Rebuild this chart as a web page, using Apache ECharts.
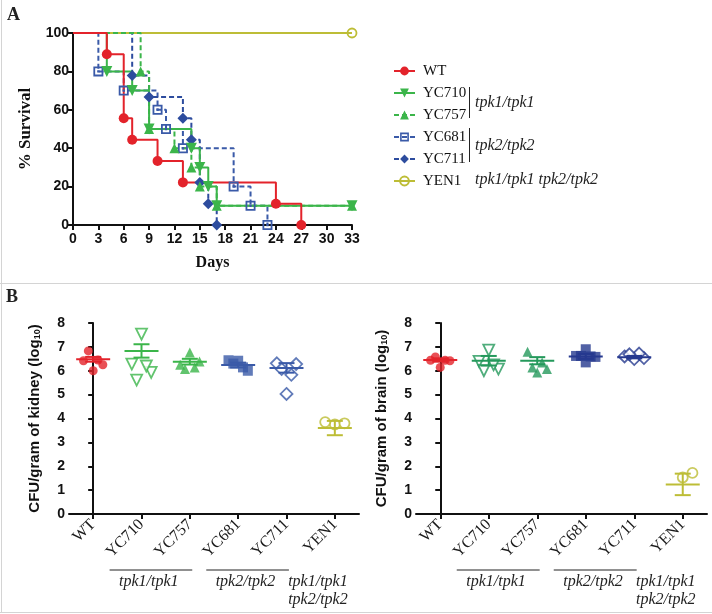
<!DOCTYPE html>
<html><head><meta charset="utf-8">
<script src="https://cdn.jsdelivr.net/npm/echarts@6/dist/echarts.min.js"></script>
<style>html,body{margin:0;padding:0;background:#fff}#c{width:712px;height:614px}</style>
</head><body><div id="c"></div>
<script>
// ---------- Panel A: survival (Kaplan-Meier steps) ----------
const strains = ['WT','YC710','YC757','YC681','YC711','YEN1'];
const dayTicksMax = 33;
const wtDays    = [0,4,6,7,10,13,24,27];
const wtSurv    = [100,88.9,55.6,44.4,33.3,22.2,11.1,0];
const yc710Days = [0,4,7,9,14,15,16,17,33];
const yc710Surv = [100,80,70,50,40,30,20,10,10];
const yc757Days = [0,8,9,12,14,15,17,33];
const yc757Surv = [100,80,50,40,30,20,10,10];
const yc681Days = [0,3,6,10,11,13,19,21,23];
const yc681Surv = [100,80,70,60,50,40,20,10,0];
const yc711Days = [0,7,9,13,14,15,16,17];
const yc711Surv = [100,77.8,66.7,55.6,44.4,22.2,11.1,0];
const yen1Days  = [0,33];
const yen1Surv  = [100,100];

// ---------- Panel B: fungal burden (log10 CFU/gram) ----------
const kidneyWT    = [6.0,6.25,6.42,6.45,6.83];
const kidneyYC710 = [7.53,5.93,6.28,6.2,5.61];
const kidneyYC757 = [6.76,6.39,6.25,6.14,6.07];
const kidneyYC681 = [6.42,6.0,6.44,6.14,6.3];
const kidneyYC711 = [5.03,6.28,6.31,5.83,6.07];
const kidneyYEN1  = [3.75,3.8,3.85];
const kidneyMean  = [6.48,6.83,6.38,6.24,6.12,3.6];
const kidneySem   = [0.1,0.28,0.12,0.1,0.2,0.3];

const brainWT    = [6.14,6.42,6.44,6.44,6.58];
const brainYC710 = [6.86,6.07,6.39,6.25,6.0];
const brainYC757 = [5.93,6.07,6.8,6.35,6.14];
const brainYC681 = [6.9,6.58,6.62,6.6,6.62,6.35];
const brainYC711 = [6.49,6.53,6.6,6.72,6.69];
const brainYEN1  = [1.53,1.72];
const brainMean  = [6.45,6.42,6.42,6.6,6.57,1.24];
const brainSem   = [0.07,0.2,0.15,0.1,0.05,0.45];

const groupLabels = [
  {text:'tpk1/tpk1', from:1, to:2},
  {text:'tpk2/tpk2', from:3, to:4}
];
const yen1Label = ['tpk1/tpk1','tpk2/tpk2'];

// ---------- styling ----------
const SANS = 'Liberation Sans', SERIF = 'Liberation Serif';
const RED = '#e3232b', GREEN = '#3bb54a', BLUE = '#3a5aa8', BLUE2 = '#2d4c9e', OLIVE = '#bdbd36';
const GREENB = '#24995b', NAVYB = '#26398f';
const SQ_DOT = 'path://M0,0L10,0L10,10L0,10Z M1.8,1.8L1.8,8.2L8.2,8.2L8.2,1.8Z M3.8,3.8L6.2,3.8L6.2,6.2L3.8,6.2Z';

function kmData(days, surv){
  return days.map((d,i)=> i===0 ? {value:[d,surv[i]], symbol:'none'} : [d,surv[i]]);
}
function km(name, days, surv, color, dash, symbol, size, rotate, itemStyle){
  return {
    name, type:'line', step:'end', xAxisIndex:0, yAxisIndex:0,
    data: kmData(days, surv), symbol, symbolSize:size, symbolRotate:rotate||0,
    clip:false, showAllSymbol:true,
    lineStyle:{color, width:2, type: dash ? [5,3] : 'solid'},
    itemStyle: itemStyle || {color},
    emphasis:{disabled:true}, animation:false
  };
}

const kmSeries = [
  km('YEN1', yen1Days, yen1Surv, OLIVE, false, 'circle', 9, 0, {color:'rgba(255,255,255,0)', borderColor:OLIVE, borderWidth:1.8}),
  km('YC681', yc681Days, yc681Surv, BLUE, true, SQ_DOT, 10, 0, {color:BLUE}),
  km('YC711', yc711Days, yc711Surv, BLUE2, true, 'diamond', 11, 0, {color:BLUE2}),
  km('YC757', yc757Days, yc757Surv, GREEN, true, 'triangle', 10, 0, {color:GREEN}),
  km('YC710', yc710Days, yc710Surv, GREEN, false, 'triangle', 11, 180, {color:GREEN}),
  km('WT', wtDays, wtSurv, RED, false, 'circle', 10, 0, {color:RED})
];

const jitter = [0, 0.2, -0.2, 0.1, -0.1, 0];
function dots(name, vals, idx, xAxisIndex, yAxisIndex, symbol, size, rotate, itemStyle){
  return {
    name, type:'scatter', xAxisIndex, yAxisIndex,
    data: vals.map((v,j)=>[idx + jitter[j], v]),
    symbol, symbolSize:size, symbolRotate:rotate||0, itemStyle, clip:false,
    emphasis:{disabled:true}, animation:false
  };
}
function errSeries(mean, sem, colors, xAxisIndex, yAxisIndex){
  return {
    type:'custom', xAxisIndex, yAxisIndex, clip:false, animation:false, z:5,
    data: mean.map((m,i)=>[i, m, sem[i]]),
    renderItem:function(params, api){
      const i = api.value(0), m = api.value(1), s = api.value(2);
      const c = api.coord([i,m]), t = api.coord([i,m+s]), b = api.coord([i,m-s]);
      const st = {stroke: colors[params.dataIndex], lineWidth:2};
      return {type:'group', children:[
        {type:'line', shape:{x1:c[0]-17,y1:c[1],x2:c[0]+17,y2:c[1]}, style:st},
        {type:'line', shape:{x1:c[0],y1:t[1],x2:c[0],y2:b[1]}, style:st},
        {type:'line', shape:{x1:c[0]-8,y1:t[1],x2:c[0]+8,y2:t[1]}, style:st},
        {type:'line', shape:{x1:c[0]-8,y1:b[1],x2:c[0]+8,y2:b[1]}, style:st}
      ]};
    }
  };
}
const hollow = (c)=>({color:'#fff', borderColor:c, borderWidth:1.8});

const kidneySeries = [
  dots('k-WT', kidneyWT, 0, 2, 1, 'circle', 9, 0, {color:RED}),
  dots('k-YC710', kidneyYC710, 1, 2, 1, 'triangle', 11, 180, hollow(GREEN)),
  dots('k-YC757', kidneyYC757, 2, 2, 1, 'triangle', 10, 0, {color:GREEN}),
  dots('k-YC681', kidneyYC681, 3, 2, 1, 'rect', 10, 0, {color:BLUE}),
  dots('k-YC711', kidneyYC711, 4, 2, 1, 'diamond', 12, 0, hollow(BLUE)),
  dots('k-YEN1', kidneyYEN1, 5, 2, 1, 'circle', 10, 0, hollow(OLIVE)),
  errSeries(kidneyMean, kidneySem, [RED,GREEN,GREEN,BLUE,BLUE,OLIVE], 2, 1)
];
const brainSeries = [
  dots('b-WT', brainWT, 0, 4, 2, 'circle', 9, 0, {color:RED}),
  dots('b-YC710', brainYC710, 1, 4, 2, 'triangle', 11, 180, hollow(GREENB)),
  dots('b-YC757', brainYC757, 2, 4, 2, 'triangle', 10, 0, {color:GREENB}),
  dots('b-YC681', brainYC681, 3, 4, 2, 'rect', 10, 0, {color:NAVYB}),
  dots('b-YC711', brainYC711, 4, 4, 2, 'diamond', 12, 0, hollow(NAVYB)),
  dots('b-YEN1', brainYEN1, 5, 4, 2, 'circle', 10, 0, hollow(OLIVE)),
  errSeries(brainMean, brainSem, [RED,GREENB,GREENB,NAVYB,NAVYB,OLIVE], 4, 2)
];

const axisLine = {show:true, lineStyle:{color:'#111', width:2}};
const axisTick = {show:true, length:5, lineStyle:{color:'#111', width:2}};
const numLabel = {fontFamily:SANS, fontWeight:'bold', fontSize:14, color:'#111', margin:4};

function catAxis(gridIndex){
  return {type:'category', gridIndex, data:strains, boundaryGap:true,
    axisLine, axisTick:{...axisTick, alignWithLabel:true},
    axisLabel:{rotate:45, fontFamily:SERIF, fontSize:16, color:'#1a1a1a', margin:8, interval:0},
    splitLine:{show:false}};
}
function hiddenX(gridIndex){
  return {type:'value', gridIndex, min:-0.5, max:5.5, show:false, splitLine:{show:false}};
}
function cfuAxis(gridIndex, organ){
  return {type:'value', gridIndex, min:0, max:8, interval:1,
    axisLine, axisTick, axisLabel:numLabel, splitLine:{show:false},
    name:'{a|CFU/gram of '+organ+' (log}{s|10}{a|)}', nameLocation:'middle', nameGap:26,
    nameTextStyle:{rich:{
      a:{fontFamily:SANS, fontWeight:'bold', fontSize:15, color:'#111', lineHeight:17},
      s:{fontFamily:SANS, fontWeight:'bold', fontSize:9, color:'#111', lineHeight:17, padding:[7,0,0,0]}
    }}};
}

const option = {
  backgroundColor:'#fff',
  animation:false,
  legend:{
    data: strains, orient:'vertical', left:388, top:57,
    itemWidth:21, itemHeight:11, itemGap:4, selectedMode:false,
    textStyle:{fontFamily:SERIF, fontSize:15, color:'#111', lineHeight:18, padding:[0,0,0,3]}
  },
  grid:[
    {left:73, top:33, width:279, height:192},
    {left:69, top:323, width:290, height:191},
    {left:416, top:323, width:291, height:191}
  ],
  xAxis:[
    {type:'value', gridIndex:0, min:0, max:dayTicksMax, interval:3,
      axisLine, axisTick, axisLabel:{...numLabel, margin:7}, splitLine:{show:false},
      name:'Days', nameLocation:'middle', nameGap:30,
      nameTextStyle:{fontFamily:SERIF, fontWeight:'bold', fontSize:16, color:'#111'}},
    catAxis(1), hiddenX(1), catAxis(2), hiddenX(2)
  ],
  yAxis:[
    {type:'value', gridIndex:0, min:0, max:100, interval:20,
      axisLine, axisTick, axisLabel:numLabel, splitLine:{show:false},
      name:'% Survival', nameLocation:'middle', nameGap:39,
      nameTextStyle:{fontFamily:SERIF, fontWeight:'bold', fontSize:17, color:'#111'}},
    cfuAxis(1,'kidney'), cfuAxis(2,'brain')
  ],
  series: [...kmSeries, ...kidneySeries, ...brainSeries]
};

const chart = echarts.init(document.getElementById('c'), null, {renderer:'canvas'});
chart.setOption(option);

// ---------- annotations ----------
function txt(text, x, y, font, align){
  return {type:'text', x, y, silent:true, style:{text, font, fill:'#222',
    align:align||'center', verticalAlign:'middle', textAlign:align||'center', textVerticalAlign:'middle'}};
}
function ln(x1,y1,x2,y2,color,w){
  return {type:'line', silent:true, shape:{x1,y1,x2,y2}, style:{stroke:color||'#222', lineWidth:w||1}};
}
const IT = 'italic 16px "Liberation Serif"';
const gfx = [
  ln(0,283.5,712,283.5,'#d4d4d4',1),
  ln(1.5,0,1.5,612,'#d4d4d4',1),
  ln(0,612.5,712,612.5,'#d4d4d4',1),
  txt('A', 7, 15, 'bold 18px "Liberation Serif"', 'left'),
  txt('B', 6, 297, 'bold 18px "Liberation Serif"', 'left'),
  ln(469.5,87,469.5,118,'#222',1),
  ln(469.5,128,469.5,162,'#222',1),
  txt('tpk1/tpk1', 475, 103, 'italic 16px "Liberation Serif"', 'left'),
  txt('tpk2/tpk2', 475, 146, 'italic 16px "Liberation Serif"', 'left'),
  txt('tpk1/tpk1 tpk2/tpk2', 475, 180, 'italic 16px "Liberation Serif"', 'left')
];
[[2,1],[4,2]].forEach(([xi, yi])=>{
  const y0 = chart.convertToPixel({yAxisIndex:yi}, 0);
  const px = v => chart.convertToPixel({xAxisIndex:xi}, v);
  groupLabels.forEach(g=>{
    gfx.push(ln(px(g.from-0.66), y0+56, px(g.to+0.05), y0+56, '#222', 1));
    gfx.push(txt(g.text, px((g.from+g.to)/2-0.35), y0+67.5, IT));
  });
  gfx.push(txt(yen1Label[0], px(4.65), y0+67.5, IT));
  gfx.push(txt(yen1Label[1], px(4.65), y0+86, IT));
});
chart.setOption({graphic:gfx});
</script></body></html>
